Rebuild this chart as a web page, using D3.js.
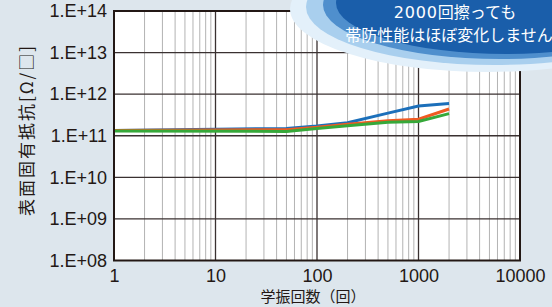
<!DOCTYPE html>
<html>
<head>
<meta charset="utf-8">
<script src="https://d3js.org/d3.v7.min.js"></script>
<style>
  html, body { margin: 0; padding: 0; background: #dde6ed; }
  svg { display: block; }
</style>
</head>
<body>
<div id="chart"></div>
<script>
// wear cycles
var cycles = [1, 50, 100, 200, 500, 1000, 2000];
// surface resistivity for the three samples [ohm/sq]
var blueVals   = [1.33e11, 1.5e11, 1.72e11, 2.05e11, 3.5e11, 5.2e11, 6.0e11];
var orangeVals = [1.33e11, 1.4e11, 1.6e11, 1.9e11, 2.3e11, 2.5e11, 4.4e11];
var greenVals  = [1.3e11, 1.27e11, 1.5e11, 1.75e11, 2.1e11, 2.2e11, 3.4e11];

var xTicks = [1, 10, 100, 1000, 10000];
var yTicks = [1e8, 1e9, 1e10, 1e11, 1e12, 1e13, 1e14];
var yLabels = ["1.E+08", "1.E+09", "1.E+10", "1.E+11", "1.E+12", "1.E+13", "1.E+14"];
var calloutNum = "2000";
var calloutLines = ["回擦っても", "帯防性能はほぼ変化しません"];

var W = 552, H = 307;
var margin = {top: 11, right: 32, bottom: 46.5, left: 114};
var width = W - margin.left - margin.right,
    height = H - margin.top - margin.bottom;

var svg = d3.select("#chart").append("svg")
    .attr("width", W).attr("height", H);

var g = svg.append("g")
    .attr("transform", "translate(" + margin.left + "," + margin.top + ")");

var x = d3.scaleLog().domain([1, 10000]).range([0, width]);
var y = d3.scaleLog().domain([1e8, 1e14]).range([height, 0]);

// plot background
g.append("rect").attr("width", width).attr("height", height).attr("fill", "#fff");

// minor vertical grid
var minor = [];
for (var d = 1; d < 10000; d *= 10) {
  for (var k = 2; k <= 9; k++) minor.push(d * k);
}
g.selectAll(".vminor").data(minor).enter().append("line")
    .attr("x1", function(v) { return x(v); }).attr("x2", function(v) { return x(v); })
    .attr("y1", 0).attr("y2", height)
    .attr("stroke", "#b3b3b3").attr("stroke-width", 1);

// major vertical grid
g.selectAll(".vmajor").data([10, 100, 1000]).enter().append("line")
    .attr("x1", function(v) { return x(v); }).attr("x2", function(v) { return x(v); })
    .attr("y1", 0).attr("y2", height)
    .attr("stroke", "#3a3131").attr("stroke-width", 1.3);

// horizontal grid
g.selectAll(".hgrid").data(yTicks.slice(1, -1)).enter().append("line")
    .attr("x1", 0).attr("x2", width)
    .attr("y1", function(v) { return y(v); }).attr("y2", function(v) { return y(v); })
    .attr("stroke", "#3a3131").attr("stroke-width", 1.3);

// series
var series = [
  {vals: blueVals, color: "#1b6fba"},
  {vals: orangeVals, color: "#f05a22"},
  {vals: greenVals, color: "#36a83a"}
];
var line = d3.line()
    .x(function(d) { return x(d[0]); })
    .y(function(d) { return y(d[1]); });
series.forEach(function(s) {
  g.append("path")
      .datum(cycles.map(function(c, i) { return [c, s.vals[i]]; }))
      .attr("d", line)
      .attr("fill", "none")
      .attr("stroke", s.color)
      .attr("stroke-width", 3);
});

// frame
g.append("rect").attr("width", width).attr("height", height)
    .attr("fill", "none").attr("stroke", "#231815").attr("stroke-width", 2);

// axes
var xAxis = g.append("g").attr("transform", "translate(0," + height + ")")
    .call(d3.axisBottom(x).tickValues(xTicks).tickFormat(d3.format("d")).tickSize(0).tickPadding(9));
var yAxis = g.append("g")
    .call(d3.axisLeft(y).tickValues(yTicks).tickFormat(function(v, i) { return yLabels[i]; }).tickSize(0).tickPadding(7));
[xAxis, yAxis].forEach(function(a) {
  a.select(".domain").remove();
  a.selectAll("text")
      .attr("fill", "#231815")
      .style("font-family", "'Liberation Sans', Arial, sans-serif")
      .style("font-size", "18px");
});

// axis titles
svg.append("text")
    .attr("x", 313).attr("y", 302)
    .attr("text-anchor", "middle")
    .attr("fill", "#231815")
    .style("font-family", "'Noto Sans CJK JP', sans-serif")
    .style("font-size", "15px")
    .text("学振回数（回）");

svg.append("text")
    .attr("transform", "translate(33,130) rotate(-90)")
    .attr("text-anchor", "middle")
    .attr("fill", "#231815")
    .style("font-family", "'Noto Sans CJK JP', sans-serif")
    .style("font-size", "17px")
    .style("letter-spacing", "2px")
    .text("表面固有抵抗[Ω/□]");

// callout bubble
var bubble = svg.append("g");
var rings = [
  {cx: 488, cy: 9, rx: 198, ry: 63, fill: "#e3f0fa"},
  {cx: 494, cy: 7, rx: 188, ry: 58, fill: "#a9cfee"},
  {cx: 500, cy: 5, rx: 177, ry: 54, fill: "#4f8fcd"},
  {cx: 506, cy: 3, rx: 170, ry: 51, fill: "#1a5eaa"}
];
bubble.selectAll("ellipse").data(rings).enter().append("ellipse")
    .attr("cx", function(r) { return r.cx; }).attr("cy", function(r) { return r.cy; })
    .attr("rx", function(r) { return r.rx; }).attr("ry", function(r) { return r.ry; })
    .attr("fill", function(r) { return r.fill; });

var t1 = bubble.append("text")
    .attr("x", 455).attr("y", 18)
    .attr("text-anchor", "middle")
    .attr("fill", "#fff")
    .style("font-family", "'Noto Sans CJK JP', sans-serif")
    .style("font-size", "16px");
t1.append("tspan")
    .style("font-family", "'DejaVu Sans', sans-serif")
    .style("letter-spacing", "0.8px")
    .text(calloutNum);
t1.append("tspan").text(calloutLines[0]);

bubble.append("text")
    .attr("x", 449).attr("y", 41)
    .attr("text-anchor", "middle")
    .attr("fill", "#fff")
    .style("font-family", "'Noto Sans CJK JP', sans-serif")
    .style("font-size", "16px")
    .text(calloutLines[1]);
</script>
</body>
</html>
